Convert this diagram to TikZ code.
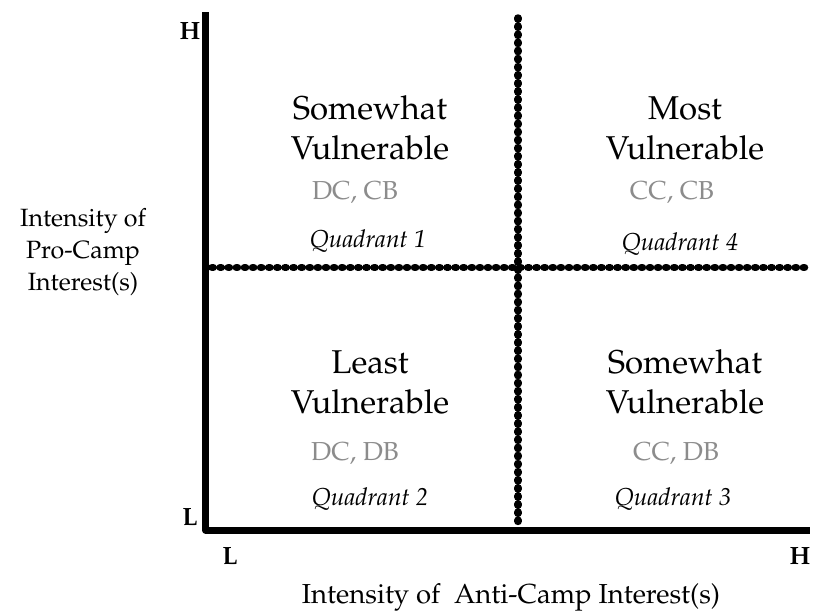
\documentclass[tikz,border=0pt]{standalone}
\usepackage[T1]{fontenc}
\usepackage{mathpazo}
\usetikzlibrary{positioning}

\begin{document}
\begin{tikzpicture}[x=1pt,y=-1pt,
  axisline/.style={line width=7pt,line join=round},
  divider/.style={line width=7.5pt,line cap=round,dash pattern=on 1.2pt off 6.9pt},
  zonelbl/.style={align=center,inner sep=0pt,font=\fontsize{33}{40}\selectfont},
  codelbl/.style={anchor=base,inner sep=0pt,text=black!45,font=\fontsize{26}{30}\selectfont},
  quadlbl/.style={anchor=base,inner sep=0pt,font=\fontsize{24.5}{28}\selectfont\itshape},
  endlbl/.style={anchor=base,inner sep=0pt,font=\fontsize{25}{28}\selectfont\bfseries},
  titlelbl/.style={align=center,inner sep=0pt,font=\fontsize{25}{32}\selectfont}]
\path[use as bounding box] (0,0) rectangle (813,613);
% axes
\coordinate (top) at (205.5,12);
\coordinate (origin) at (205.5,530);
\coordinate (right) at (810,530);
% quadrant dividers
\coordinate (vtop) at (518,18);
\coordinate (vbot) at (518,528);
\coordinate (hleft) at (212,267.5);
\coordinate (hright) at (810,267.5);
\draw[divider] (vtop)--(vbot);
\draw[divider] (hleft)--(hright);
\draw[axisline] (top)--(origin)--(right);
% end marks
\node[endlbl] (yhi) at (190,39) {H};
\node[endlbl] (ylo) at (190,525) {L};
\node[endlbl] (xlo) at (230,564) {L};
\node[endlbl] (xhi) at (800,564) {H};
% quadrants
\foreach \nm/\x/\y/\txt/\cd/\cx/\cy/\qd/\qx/\qy in {
  qa/370/128/{Somewhat\\Vulnerable}/{DC, CB}/355/199/1/368/247,
  qb/370/382/{Least\\Vulnerable}/{DC, DB}/355/460/2/370/505,
  qc/685/382/{Somewhat\\Vulnerable}/{CC, DB}/676/460/3/673/505,
  qd/685/128/{Most\\Vulnerable}/{CC, CB}/672/199/4/680/250}{
  \node[zonelbl] (\nm) at (\x,\y) {\txt};
  \node[codelbl] (\nm code) at (\cx,\cy) {\cd};
  \node[quadlbl] (\nm quad) at (\qx,\qy) {Quadrant \qd};
}
% axis titles
\node[titlelbl] (ytitle) at (83,252) {Intensity of\\Pro-Camp\\Interest(s)};
\node[titlelbl,anchor=base,font=\fontsize{27.5}{32}\selectfont] (xtitle) at (511,603) {Intensity of~ Anti-Camp Interest(s)};
\end{tikzpicture}
\end{document}
